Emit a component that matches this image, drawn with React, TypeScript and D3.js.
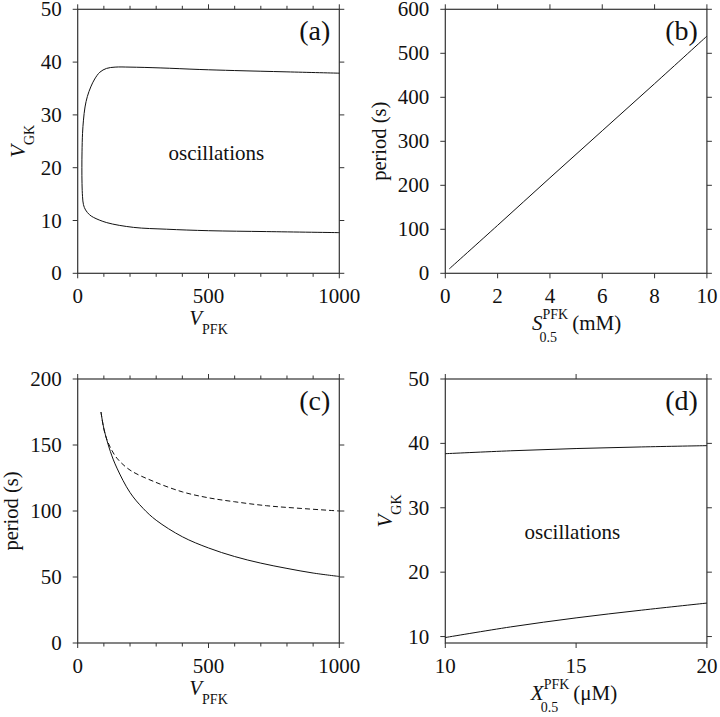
import React, { useEffect } from "react";
import * as d3 from "d3";

// ---------- data ----------
// Panel (a): oscillation boundary in (V_PFK, V_GK), traced from the upper branch (right to left) to the lower branch
const aUpperVpfk = [1000, 800, 600, 467, 315, 200, 143, 110, 85, 65, 50, 37, 28, 22, 18.5, 16.5, 16];
const aUpperVgk = [37.9, 38.15, 38.4, 38.6, 38.9, 39.05, 39.05, 38.8, 38.1, 36.8, 35.3, 33.5, 31.5, 29, 26.5, 23, 20];
const aLowerVpfk = [16.5, 18.5, 22, 30, 45, 60, 111, 213, 340, 500, 722, 1000];
const aLowerVgk = [17, 14.5, 13, 12, 11.1, 10.6, 9.6, 8.7, 8.35, 8.07, 7.9, 7.7];

// Panel (b): period vs S0.5
const bS05 = [0.15, 2, 4, 6, 8, 10];
const bPeriod = [10, 109, 217, 324, 431, 539];

// Panel (c): period vs V_PFK
const cSolidV = [89, 100, 125, 150, 200, 250, 300, 400, 500, 600, 700, 800, 900, 1000];
const cSolidP = [175, 162.5, 145, 132.5, 114, 102, 93, 80.5, 72, 65.5, 60.5, 56.5, 53, 50.4];
const cDashV = [89, 100, 110, 125, 150, 200, 289, 400, 500, 600, 722, 850, 1000];
const cDashP = [175, 162, 155, 148, 140, 131, 122.5, 114.5, 110, 107, 104, 102, 100];

// Panel (d): boundaries in (X0.5, V_GK)
const dX05 = [10, 12.5, 15, 17.5, 20];
const dUpper = [38.4, 38.85, 39.2, 39.45, 39.65];
const dLower = [9.85, 11.5, 12.9, 14.1, 15.2];

// ticks
const vpfkTicks = [0, 500, 1000];
const vpfkMinor = [100, 200, 300, 400, 600, 700, 800, 900];
const vgkTicksA = [0, 10, 20, 30, 40, 50];
const sTicks = [0, 2, 4, 6, 8, 10];
const periodTicksB = [0, 100, 200, 300, 400, 500, 600];
const periodTicksC = [0, 50, 100, 150, 200];
const xTicksD = [10, 15, 20];
const vgkTicksD = [10, 20, 30, 40, 50];

const FONT = "'Liberation Serif', 'Times New Roman', Times, serif";
const PW = 261.6;
const PH = 264;
const AX = "#333";

type Pt = [number, number];
const zip = (a: number[], b: number[]): Pt[] => a.map((v, i) => [v, b[i]]);

type PanelProps = {
  left: number;
  top: number;
  xDomain: [number, number];
  yDomain: [number, number];
  xTicks: number[];
  yTicks: number[];
  xMinor?: number[];
  topTicks?: number[];
  label: string;
  render: (x: d3.ScaleLinear<number, number>, y: d3.ScaleLinear<number, number>) => React.ReactNode;
};

function Panel({ left, top, xDomain, yDomain, xTicks, yTicks, xMinor = [], topTicks, label, render }: PanelProps) {
  const x = d3.scaleLinear().domain(xDomain).range([left, left + PW]);
  const y = d3.scaleLinear().domain(yDomain).range([top + PH, top]);
  const right = left + PW;
  const bottom = top + PH;
  const tt = topTicks ?? xTicks;
  return (
    <g>
      <rect x={left} y={top} width={PW} height={PH} fill="none" stroke={AX} strokeWidth={1.2} />
      {xTicks.map((t) => (
        <line key={"xb" + t} x1={x(t)} x2={x(t)} y1={bottom} y2={bottom + 5} stroke={AX} strokeWidth={1} />
      ))}
      {tt.map((t) => (
        <line key={"xt" + t} x1={x(t)} x2={x(t)} y1={top} y2={top - 5} stroke={AX} strokeWidth={1} />
      ))}
      {xMinor.map((t) => (
        <g key={"xm" + t}>
          <line x1={x(t)} x2={x(t)} y1={bottom} y2={bottom + 3.5} stroke={AX} strokeWidth={1} />
          <line x1={x(t)} x2={x(t)} y1={top} y2={top - 3.5} stroke={AX} strokeWidth={1} />
        </g>
      ))}
      {yTicks.map((t) => (
        <g key={"y" + t}>
          <line x1={left} x2={left - 5} y1={y(t)} y2={y(t)} stroke={AX} strokeWidth={1} />
          <line x1={right} x2={right + 5} y1={y(t)} y2={y(t)} stroke={AX} strokeWidth={1} />
        </g>
      ))}
      {xTicks.map((t) => (
        <text key={"xl" + t} x={x(t)} y={bottom + 30} textAnchor="middle" fontSize={21} fontFamily={FONT} fill="#111">
          {t}
        </text>
      ))}
      {yTicks.map((t) => (
        <text key={"yl" + t} x={left - 16} y={y(t) + 7} textAnchor="end" fontSize={21} fontFamily={FONT} fill="#111">
          {t}
        </text>
      ))}
      {render(x, y)}
      <text x={right - 9} y={top + 31} textAnchor="end" fontSize={28} fontFamily={FONT} fill="#111">
        {label}
      </text>
    </g>
  );
}

function SubLabel({ cx, cy, main, sub, rotate }: { cx: number; cy: number; main: string; sub: string; rotate?: boolean }) {
  const mainW = 12.8;
  const subW = sub.length === 3 ? 25.7 : 20.2;
  const total = mainW + subW;
  const x0 = -total / 2;
  return (
    <g transform={`translate(${cx},${cy})${rotate ? " rotate(-90)" : ""}`}>
      <text x={x0} y={0} fontSize={21} fontStyle="italic" fontFamily={FONT} fill="#111">
        {main}
      </text>
      <text x={x0 + mainW} y={9} fontSize={14} fontFamily={FONT} fill="#111">
        {sub}
      </text>
    </g>
  );
}

function SupSubLabel({ cx, cy, main, mainW, unit }: { cx: number; cy: number; main: string; mainW: number; unit: string }) {
  const stackW = 25.7;
  const unitW = 48;
  const total = mainW + stackW + 4 + unitW;
  const x0 = cx - total / 2;
  return (
    <g>
      <text x={x0} y={cy} fontSize={21} fontStyle="italic" fontFamily={FONT} fill="#111">
        {main}
      </text>
      <text x={x0 + mainW} y={cy - 11} fontSize={14} fontFamily={FONT} fill="#111">
        PFK
      </text>
      <text x={x0 + mainW - 3} y={cy + 12} fontSize={14} fontFamily={FONT} fill="#111">
        0.5
      </text>
      <text x={x0 + mainW + stackW + 4} y={cy} fontSize={21} fontFamily={FONT} fill="#111">
        {unit}
      </text>
    </g>
  );
}

function RotLabel({ x, cy, text }: { x: number; cy: number; text: string }) {
  return (
    <text transform={`translate(${x},${cy}) rotate(-90)`} textAnchor="middle" fontSize={20.5} fontFamily={FONT} fill="#111">
      {text}
    </text>
  );
}

export default function App() {
  useEffect(() => {
    document.body.style.margin = "0";
  }, []);

  const lineFn = (x: d3.ScaleLinear<number, number>, y: d3.ScaleLinear<number, number>) =>
    d3
      .line<Pt>()
      .x((d) => x(d[0]))
      .y((d) => y(d[1]))
      .curve(d3.curveCatmullRom.alpha(0.5));

  const aPts: Pt[] = [...zip(aUpperVpfk, aUpperVgk), ...zip(aLowerVpfk, aLowerVgk)];

  const L1 = 77.7;
  const L2 = 445.3;
  const T1 = 9.3;
  const T2 = 379;

  return (
    <svg width={720} height={717} style={{ display: "block", background: "#fff" }}>
      <rect width={720} height={717} fill="#fff" />
      {/* (a) */}
      <Panel
        left={L1}
        top={T1}
        xDomain={[0, 1000]}
        yDomain={[0, 50]}
        xTicks={vpfkTicks}
        yTicks={vgkTicksA}
        xMinor={vpfkMinor}
        label="(a)"
        render={(x, y) => (
          <g>
            <path d={lineFn(x, y)(aPts) ?? ""} fill="none" stroke="#111" strokeWidth={1} />
            <text x={x(530)} y={y(21.5)} textAnchor="middle" fontSize={21} fontFamily={FONT} fill="#111">
              oscillations
            </text>
          </g>
        )}
      />
      <SubLabel cx={L1 + PW / 2} cy={T1 + PH + 52} main="V" sub="PFK" />
      <SubLabel cx={L1 - 52.5} cy={T1 + PH / 2} main="V" sub="GK" rotate />

      {/* (b) */}
      <Panel
        left={L2}
        top={T1}
        xDomain={[0, 10]}
        yDomain={[0, 600]}
        xTicks={sTicks}
        yTicks={periodTicksB}
        label="(b)"
        render={(x, y) => (
          <path d={lineFn(x, y)(zip(bS05, bPeriod)) ?? ""} fill="none" stroke="#111" strokeWidth={1} />
        )}
      />
      <SupSubLabel cx={L2 + PW / 2} cy={T1 + PH + 57} main="S" mainW={10.5} unit="(mM)" />
      <RotLabel x={L2 - 59.5} cy={T1 + PH / 2} text="period (s)" />

      {/* (c) */}
      <Panel
        left={L1}
        top={T2}
        xDomain={[0, 1000]}
        yDomain={[0, 200]}
        xTicks={vpfkTicks}
        yTicks={periodTicksC}
        xMinor={vpfkMinor}
        label="(c)"
        render={(x, y) => (
          <g>
            <path d={lineFn(x, y)(zip(cDashV, cDashP)) ?? ""} fill="none" stroke="#111" strokeWidth={1} strokeDasharray="5,3" />
            <path d={lineFn(x, y)(zip(cSolidV, cSolidP)) ?? ""} fill="none" stroke="#111" strokeWidth={1} />
          </g>
        )}
      />
      <SubLabel cx={L1 + PW / 2} cy={T2 + PH + 52} main="V" sub="PFK" />
      <RotLabel x={L1 - 59.5} cy={T2 + PH / 2} text="period (s)" />

      {/* (d) */}
      <Panel
        left={L2}
        top={T2}
        xDomain={[10, 20]}
        yDomain={[9, 50]}
        xTicks={xTicksD}
        yTicks={vgkTicksD}
        label="(d)"
        render={(x, y) => (
          <g>
            <path d={lineFn(x, y)(zip(dX05, dUpper)) ?? ""} fill="none" stroke="#111" strokeWidth={1} />
            <path d={lineFn(x, y)(zip(dX05, dLower)) ?? ""} fill="none" stroke="#111" strokeWidth={1} />
            <text x={x(14.86)} y={y(25.1)} textAnchor="middle" fontSize={21} fontFamily={FONT} fill="#111">
              oscillations
            </text>
          </g>
        )}
      />
      <SupSubLabel cx={L2 + PW / 2} cy={T2 + PH + 57} main="X" mainW={12.8} unit="(μM)" />
      <SubLabel cx={L2 - 53} cy={T2 + PH / 2} main="V" sub="GK" rotate />
    </svg>
  );
}
